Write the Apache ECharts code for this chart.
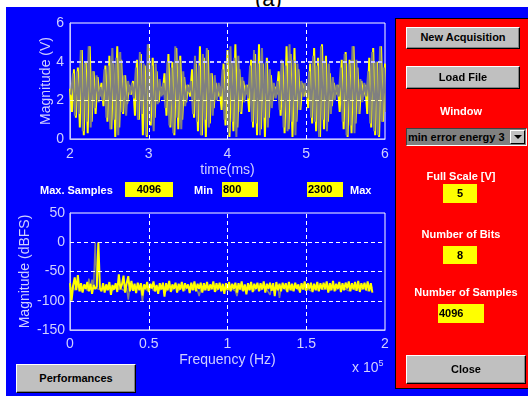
<!DOCTYPE html>
<html>
<head>
<meta charset="utf-8">
<script src="https://cdn.jsdelivr.net/npm/echarts@6.0.0/dist/echarts.min.js"></script>
<style>
  html, body { margin: 0; padding: 0; width: 528px; height: 396px; overflow: hidden; background: #fff; }
  #title { position: absolute; left: 255px; top: -14px; font: 22px 'Liberation Sans', Arial, sans-serif; color: #000; z-index: 0; }
  #bg { position: absolute; left: 6px; top: 7px; width: 522px; height: 389px; background: #0000ff; z-index: 1; }
  #chart { position: absolute; left: 0; top: 0; width: 528px; height: 396px; z-index: 2; }
  .w { position: absolute; z-index: 3; font-family: 'Liberation Sans', Arial, sans-serif; font-weight: bold; font-size: 11px; white-space: nowrap; box-sizing: border-box; }
  .lbl { color: #fff; height: 13px; line-height: 13px; }
  .box { background: #ffff00; color: #000; }
  .btn { background: #c0c0c0; color: #000; text-align: center; border: 1px solid; border-color: #fff #000 #000 #fff;
         box-shadow: inset -1px -1px #808080; }
  #panel { position: absolute; z-index: 2; left: 395px; top: 18px; width: 133px; height: 371px; background: #ff0000;
           border-left: 1px solid #000; border-top: 1px solid #000; border-bottom: 1px solid #000; box-sizing: border-box; }
  #exp { position: absolute; z-index: 3; left: 352px; top: 358px; color: #d0d0ff; font: 14px 'Liberation Sans', Arial, sans-serif; }
  #exp sup { font-size: 9px; vertical-align: 6px; }
</style>
</head>
<body>
<div id="title">(a)</div>
<div id="bg"></div>
<div id="panel"></div>
<div id="chart"></div>

<div class="w lbl" style="left:40px;top:184px;">Max. Samples</div>
<div class="w box" style="left:125px;top:182px;width:48px;height:15px;line-height:15px;text-align:center;">4096</div>
<div class="w lbl" style="left:194px;top:184px;">Min</div>
<div class="w box" style="left:222px;top:182px;width:36px;height:15px;line-height:15px;padding-left:1px;">800</div>
<div class="w box" style="left:307px;top:182px;width:36px;height:15px;line-height:15px;padding-left:1px;">2300</div>
<div class="w lbl" style="left:350px;top:184px;">Max</div>

<div class="w btn" style="left:16px;top:364px;width:120px;height:29px;line-height:26px;">Performances</div>
<div id="exp">x 10<sup>5</sup></div>

<div class="w btn" style="left:406px;top:27px;width:114px;height:22px;line-height:19px;">New Acquisition</div>
<div class="w btn" style="left:406px;top:66px;width:114px;height:23px;line-height:20px;">Load File</div>
<div class="w lbl" style="left:400px;top:105px;width:122px;text-align:center;">Window</div>
<div class="w" style="left:406px;top:128px;width:121px;height:18px;background:#808080;border:1px solid;border-color:#404040 #fff #fff #404040;color:#000;line-height:16px;padding-left:1px;">min error energy 3
  <div style="position:absolute;right:1px;top:1px;width:15px;height:14px;background:#c0c0c0;border:1px solid;border-color:#fff #000 #000 #fff;box-sizing:border-box;">
    <div style="position:absolute;left:3px;top:4px;width:0;height:0;border-left:4px solid transparent;border-right:4px solid transparent;border-top:4px solid #000;"></div>
  </div>
</div>
<div class="w lbl" style="left:400px;top:170px;width:122px;text-align:center;">Full Scale [V]</div>
<div class="w box" style="left:443px;top:184px;width:34px;height:19px;line-height:19px;text-align:center;">5</div>
<div class="w lbl" style="left:400px;top:228px;width:122px;text-align:center;">Number of Bits</div>
<div class="w box" style="left:443px;top:246px;width:34px;height:18px;line-height:18px;text-align:center;">8</div>
<div class="w lbl" style="left:405px;top:286px;width:122px;text-align:center;">Number of Samples</div>
<div class="w box" style="left:438px;top:304px;width:46px;height:19px;line-height:19px;padding-left:1px;">4096</div>
<div class="w btn" style="left:406px;top:355px;width:120px;height:29px;line-height:26px;">Close</div>

<script>
// time record: samples every 0.025 ms starting at 2 ms (gray trace sampled half a step later)
const timeStart = 2;
const timeStep = 0.025;
const yellowWave = [
  2.6, 1.4, 3.6, 1.1, 3.7, 0.6, 4.6, 0.2, 4.0, 0.3, 4.8, 0.9, 3.5, 1.3, 3.2, 2.2,
  2.9, 1.7, 3.8, 0.9, 4.3, 0.5, 3.9, 0.1, 4.8, 0.6, 4.1, 1.3, 3.3, 1.8, 2.8,
  2.3, 3.0,
  1.2, 4.1, 1.0, 4.4, 0.2, 3.8, 0.1, 4.9, 0.7, 4.2, 1.1, 3.5, 1.9,
  2.7, 2.3,
  3.4, 1.2, 4.4, 0.6, 4.0, 0.2, 4.7, 0.5, 4.3, 1.0, 3.2, 1.9,
  2.8, 2.2,
  3.6, 1.1, 3.9, 0.4, 4.8, 0.2, 4.2, 0.1, 4.6, 0.8, 3.4, 1.6, 2.9,
  2.2, 2.7,
  1.5, 3.9, 0.7, 4.6, 0.1, 4.0, 0.4, 4.9, 0.6, 3.6, 1.3, 3.0,
  2.3, 2.8,
  1.4, 4.1, 0.6, 4.4, 0.2, 4.9, 0.5, 3.9, 0.1, 4.2, 1.1, 3.3, 2.0,
  2.7, 2.3,
  3.5, 1.2, 4.0, 0.3, 4.8, 0.5, 4.4, 0.1, 4.7, 0.9, 3.6, 1.5, 2.9,
  2.2, 2.7,
  1.6, 3.9, 0.8, 4.7, 0.4, 4.2, 0.1, 4.9, 0.5, 4.3, 0.9, 3.4, 1.7, 2.9,
  2.3, 2.8,
  1.4, 4.1, 0.5, 4.5, 0.1, 4.1, 0.3, 4.8, 0.8, 3.7, 1.3, 3.0,
  2.2, 2.8,
  1.3, 4.2, 0.6, 4.7, 0.2, 4.0, 0.1, 4.8, 0.9, 3.9
];
const grayWave = [
  2.3, 3.4, 1.2, 3.5, 1.3, 4.6, 0.4, 3.9, 0.9, 4.8, 0.6, 3.5, 1.6, 3.3, 1.9, 2.7,
  2.0, 3.6, 1.1, 3.8, 0.5, 4.7, 1.0, 4.2, 0.2, 4.5, 1.4, 3.3, 1.2, 3.0, 2.3,
  2.9, 2.1,
  3.7, 1.0, 4.5, 1.3, 3.9, 0.2, 4.9, 0.9, 3.8, 0.4, 3.9, 1.8, 3.1,
  2.2, 2.9,
  1.6, 4.0, 0.7, 3.7, 0.3, 4.8, 1.1, 4.1, 0.5, 3.5, 1.7, 2.8,
  2.4, 3.0,
  1.3, 4.3, 0.9, 3.8, 0.2, 4.4, 1.0, 4.7, 0.6, 3.4, 1.2, 3.3, 2.0,
  2.9, 2.2,
  3.6, 1.0, 3.9, 0.3, 4.8, 0.9, 4.2, 0.1, 4.3, 1.4, 3.2, 1.9,
  2.8, 2.1,
  3.8, 0.9, 4.6, 0.8, 3.9, 0.2, 4.7, 1.1, 4.0, 0.6, 3.6, 1.6, 2.9,
  2.1, 3.0,
  1.5, 4.1, 0.6, 3.8, 0.4, 4.9, 0.9, 4.1, 0.2, 3.9, 1.5, 3.0, 2.2,
  2.9, 2.1,
  3.5, 1.1, 4.3, 0.9, 3.8, 0.1, 4.8, 1.0, 4.0, 0.4, 3.9, 1.3, 3.2, 2.0,
  2.8, 2.2,
  3.7, 0.9, 4.4, 0.2, 3.9, 0.7, 4.8, 0.3, 4.1, 1.3, 3.1, 1.9,
  2.9, 2.2,
  3.5, 0.8, 4.5, 0.4, 4.0, 0.2, 4.8, 0.9, 3.7, 1.4
];

// spectrum: bins every 0.01 x 10^5 Hz starting at 0
const freqStep = 0.01;
const yellowSpectrum = [
  -70, -100, -74, -60, -82, -56, -84, -70, -86, -72, -80, -68, -84, -71, -88, -73, -80, -76, 0, -78,
  -84, -70, -86, -72, -82, -68, -90, -73, -81, -70, -85, -55, -80, -72, -57, -86, -70, -58, -84, -66,
  -83, -71, -87, -69, -82, -70, -91, -72, -80, -68, -85, -71, -79, -67, -84, -73, -88, -70, -81, -69,
  -93, -70, -82, -66, -85, -72, -80, -69, -86, -71, -81, -68, -84, -70, -79, -72, -87, -69, -82, -67,
  -84, -71, -80, -69, -86, -70, -82, -68, -83, -72, -80, -67, -85, -70, -81, -69, -84, -71, -88, -70,
  -82, -68, -84, -71, -80, -69, -86, -70, -81, -67, -84, -72, -89, -70, -82, -68, -85, -71, -80, -69,
  -84, -70, -81, -67, -86, -71, -80, -69, -83, -70, -92, -68, -82, -71, -84, -69, -80, -70, -85, -68,
  -82, -71, -84, -69, -80, -72, -86, -70, -81, -67, -83, -70, -80, -69, -85, -71, -82, -68, -84, -70,
  -81, -69, -80, -67, -86, -70, -82, -66, -84, -71, -80, -68, -85, -70, -82, -69, -79, -67, -84, -70,
  -81, -68, -83, -66, -85, -70, -80, -69, -82, -67, -84, -70, -86
];
const graySpectrum = [
  -76, -80, -74, -82, -77, -79, -75, -84, -78, -80, -76, -83, -62, -80, -64, -78, 0, -79, -77, -81,
  -78, -80, -76, -82, -77, -80, -75, -83, -78, -79, -76, -81, -78, -80, -77, -84, -78, -98, -76, -80,
  -78, -82, -77, -80, -76, -81, -101, -79, -77, -82, -78, -80, -76, -83, -78, -80, -77, -82, -78, -80,
  -76, -84, -78, -80, -77, -82, -78, -80, -76, -83, -78, -79, -77, -82, -78, -80, -76, -81, -78, -80,
  -77, -83, -92, -80, -76, -82, -78, -80, -77, -81, -78, -79, -76, -83, -78, -80, -77, -82, -78, -80,
  -76, -81, -78, -80, -77, -83, -92, -80, -76, -82, -78, -79, -77, -81, -78, -80, -76, -83, -78, -80,
  -77, -82, -78, -80, -76, -81, -78, -90, -77, -82, -78, -80, -76, -95, -78, -80, -77, -82, -78, -80,
  -76, -83, -78, -80, -77, -82, -78, -79, -76, -81, -78, -80, -77, -83, -78, -80, -76, -82, -78, -80,
  -77, -81, -78, -80, -76, -83, -78, -79, -77, -82, -78, -80, -76, -81, -78, -80, -77, -83, -78, -80,
  -76, -82, -78, -80, -77, -81, -78, -79, -76, -83, -78, -80, -77
];

const tickColor = '#d0d0ff';
const font = "'Liberation Sans', Arial, sans-serif";

const chart = echarts.init(document.getElementById('chart'));

function dashed(color, width) {
  return { color: color, width: width, type: [4, 3] };
}

function gridLines(xs, ys, color) {
  return {
    silent: true,
    symbol: 'none',
    label: { show: false },
    lineStyle: dashed(color, 1),
    data: xs.map(x => ({ xAxis: x })).concat(ys.map(y => ({ yAxis: y })))
  };
}

const axisBase = {
  axisLine: { show: true, onZero: false, lineStyle: { color: '#c8c8ff', width: 1 } },
  axisTick: { show: false },
  splitLine: { show: false },
  nameLocation: 'middle',
  nameMoveOverlap: false,
  nameTextStyle: { color: tickColor, fontSize: 14, fontFamily: font },
  axisLabel: { color: tickColor, fontSize: 14, fontFamily: font }
};

const option = {
  backgroundColor: 'transparent',
  animation: false,
  grid: [
    { left: 70, top: 23, width: 315, height: 116, show: true, borderColor: '#fff', borderWidth: 1, backgroundColor: 'transparent' },
    { left: 70, top: 213, width: 315, height: 117, show: true, borderColor: '#fff', borderWidth: 1, backgroundColor: 'transparent' }
  ],
  xAxis: [
    Object.assign({}, axisBase, {
      type: 'value', gridIndex: 0, min: 2, max: 6, interval: 1,
      name: 'time(ms)', nameGap: 24,
      axisLabel: Object.assign({}, axisBase.axisLabel, { margin: 8 })
    }),
    Object.assign({}, axisBase, {
      type: 'value', gridIndex: 1, min: 0, max: 2, interval: 0.5,
      name: 'Frequency (Hz)', nameGap: 23,
      axisLabel: Object.assign({}, axisBase.axisLabel, { margin: 7 })
    })
  ],
  yAxis: [
    Object.assign({}, axisBase, {
      type: 'value', gridIndex: 0, min: 0, max: 6, interval: 2,
      name: 'Magnitude (V)', nameGap: 17,
      axisLabel: Object.assign({}, axisBase.axisLabel, { margin: 6 })
    }),
    Object.assign({}, axisBase, {
      type: 'value', gridIndex: 1, min: -150, max: 50, interval: 50,
      name: 'Magnitude (dBFS)', nameGap: 38,
      axisLabel: Object.assign({}, axisBase.axisLabel, { margin: 5 })
    })
  ],
  series: [
    {
      type: 'line', xAxisIndex: 0, yAxisIndex: 0, showSymbol: false,
      lineStyle: { color: '#ffff00', width: 2 },
      data: yellowWave.map((v, i) => [timeStart + i * timeStep, v])
    },
    {
      type: 'line', xAxisIndex: 0, yAxisIndex: 0, showSymbol: false,
      lineStyle: { color: '#808080', width: 2 },
      data: grayWave.map((v, i) => [timeStart + (i + 0.5) * timeStep, v]),
      markLine: {
        silent: true, symbol: 'none', label: { show: false },
        data: [
          { xAxis: 3, lineStyle: dashed('#ffffff', 1) },
          { xAxis: 4, lineStyle: dashed('#ffffff', 1) },
          { xAxis: 5, lineStyle: dashed('#ffffff', 1) },
          { yAxis: 2, lineStyle: dashed('#ffffb0', 1) },
          { yAxis: 4, lineStyle: dashed('#c8c8ff', 2) }
        ]
      }
    },
    {
      type: 'line', xAxisIndex: 1, yAxisIndex: 1, showSymbol: false,
      lineStyle: { color: '#808080', width: 1.5 },
      data: graySpectrum.map((v, i) => [i * freqStep, v])
    },
    {
      type: 'line', xAxisIndex: 1, yAxisIndex: 1, showSymbol: false,
      lineStyle: { color: '#ffff00', width: 2 },
      data: yellowSpectrum.map((v, i) => [i * freqStep, v]),
      markLine: gridLines([0.5, 1, 1.5], [0, -50, -100], '#ffffff')
    }
  ]
};

chart.setOption(option);
</script>
</body>
</html>
